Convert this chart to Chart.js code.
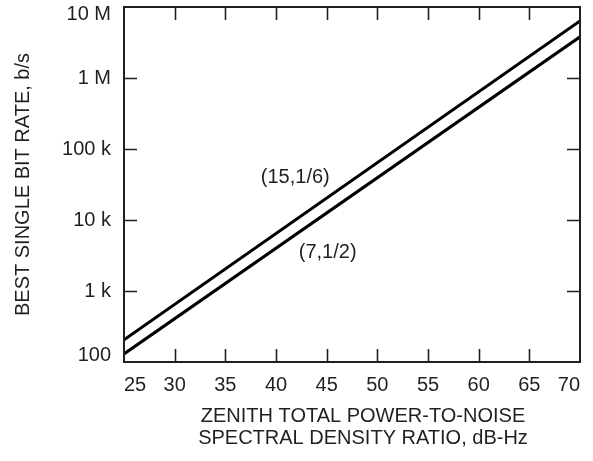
<!DOCTYPE html>
<html>
<head>
<meta charset="utf-8">
<script src="https://cdn.jsdelivr.net/npm/chart.js@4/dist/chart.umd.min.js"></script>
<style>
  html, body { margin: 0; padding: 0; background: #fff; }
  #wrap { width: 593px; height: 461px; position: relative; }
</style>
</head>
<body>
<div id="wrap"><canvas id="c" width="593" height="461"></canvas></div>
<script>
// Power-to-noise density ratio (dB-Hz) at the ends of each curve
const snrDbHz = [25, 70];
// Best single bit rate (b/s) for each code
const rateCode15 = [205, 6.35e6];   // (15,1/6)
const rateCode7 = [130, 3.8e6];     // (7,1/2)
const codeNames = ['(15,1/6)', '(7,1/2)'];
// Where each code name sits, in axis units [dB-Hz, b/s]
const codeLabelAt = [[41.9, 39700], [45.1, 3480]];

// Axis ticks
const xTickStep = 5;
const xMin = 25, xMax = 70;
const yTickValues = [100, 1e3, 1e4, 1e5, 1e6, 1e7];
const yTickLabels = ['100', '1 k', '10 k', '100 k', '1 M', '10 M'];

const xTitleLines = ['ZENITH TOTAL POWER-TO-NOISE', 'SPECTRAL DENSITY RATIO, dB-Hz'];
const yTitle = 'BEST SINGLE BIT RATE, b/s';

const INK = '#231f20';
const FONT = "'Liberation Sans', Arial, Helvetica, sans-serif";

function toPoints(xs, ys) {
  return xs.map((x, i) => ({ x: x, y: ys[i] }));
}

// Frame with inward tick marks on all four sides, plus curve names and x caption
const framePlugin = {
  id: 'frame',
  afterDatasetsDraw(chart) {
    const { ctx, chartArea: a, scales } = chart;
    const tick = 13;
    ctx.save();
    ctx.strokeStyle = INK;
    ctx.lineWidth = 2;
    ctx.strokeRect(a.left, a.top, a.right - a.left, a.bottom - a.top);
    ctx.beginPath();
    scales.x.ticks.forEach(t => {
      if (t.value <= xMin || t.value >= xMax) return;
      const px = Math.round(scales.x.getPixelForValue(t.value)) + 0.5;
      ctx.moveTo(px, a.bottom); ctx.lineTo(px, a.bottom - tick);
      ctx.moveTo(px, a.top); ctx.lineTo(px, a.top + tick);
    });
    scales.y.ticks.forEach(t => {
      if (t.value <= yTickValues[0] || t.value >= yTickValues[yTickValues.length - 1]) return;
      const py = Math.round(scales.y.getPixelForValue(t.value)) + 0.5;
      ctx.moveTo(a.left, py); ctx.lineTo(a.left + tick, py);
      ctx.moveTo(a.right, py); ctx.lineTo(a.right - tick, py);
    });
    ctx.lineWidth = 1.6;
    ctx.stroke();
    ctx.restore();
  },
  afterDraw(chart) {
    const { ctx, chartArea: a, scales } = chart;
    ctx.save();
    ctx.fillStyle = INK;
    ctx.font = '20px ' + FONT;
    ctx.textAlign = 'center';
    ctx.textBaseline = 'middle';
    codeNames.forEach((name, i) => {
      const px = scales.x.getPixelForValue(codeLabelAt[i][0]);
      const py = scales.y.getPixelForValue(codeLabelAt[i][1]);
      ctx.fillText(name, px, py);
    });
    ctx.textBaseline = 'alphabetic';
    const cx = (a.left + a.right) / 2 + 11;
    ctx.fillText(xTitleLines[0], cx, a.bottom + 60);
    ctx.fillText(xTitleLines[1], cx, a.bottom + 82);
    ctx.restore();
  }
};

const edgeFont = { family: FONT, size: 20, lineHeight: 0.7 };
const tickFont = { family: FONT, size: 20, lineHeight: 1.2 };

new Chart(document.getElementById('c'), {
  type: 'line',
  data: {
    datasets: [
      {
        label: codeNames[0],
        data: toPoints(snrDbHz, rateCode15),
        borderColor: '#000',
        borderWidth: 3,
        pointRadius: 0,
        fill: false
      },
      {
        label: codeNames[1],
        data: toPoints(snrDbHz, rateCode7),
        borderColor: '#000',
        borderWidth: 3,
        pointRadius: 0,
        fill: false
      }
    ]
  },
  options: {
    responsive: false,
    animation: false,
    devicePixelRatio: 1,
    layout: { padding: { left: 0, right: 13, top: 7, bottom: 0 } },
    plugins: {
      legend: { display: false },
      tooltip: { enabled: false }
    },
    scales: {
      x: {
        type: 'linear',
        min: xMin,
        max: xMax,
        grid: { display: false, drawTicks: false },
        border: { display: false },
        ticks: {
          stepSize: xTickStep,
          align: 'inner',
          padding: 11,
          color: INK,
          font: tickFont,
          maxRotation: 0,
          autoSkip: false
        },
        afterFit(s) {
          s.height = 99;
          s.paddingLeft = 0;
          s.paddingRight = 0;
        }
      },
      y: {
        type: 'logarithmic',
        min: yTickValues[0],
        max: yTickValues[yTickValues.length - 1],
        grid: { display: false, drawTicks: false },
        border: { display: false },
        afterBuildTicks(s) {
          s.ticks = yTickValues.map(v => ({ value: v }));
        },
        ticks: {
          padding: 13,
          color: INK,
          autoSkip: false,
          font(ctx) {
            const i = ctx.index;
            return (i === 0 || i === yTickValues.length - 1) ? edgeFont : tickFont;
          },
          callback(value) {
            const i = yTickValues.indexOf(value);
            if (i === 0) return [yTickLabels[i], ''];
            if (i === yTickValues.length - 1) return ['', yTickLabels[i]];
            return yTickLabels[i];
          }
        },
        title: {
          display: true,
          text: yTitle,
          color: INK,
          font: { family: FONT, size: 20 },
          padding: { top: 11, bottom: 0 }
        },
        afterFit(s) {
          s.width = 124;
          s.paddingTop = 0;
          s.paddingBottom = 0;
        }
      }
    }
  },
  plugins: [framePlugin]
});
</script>
</body>
</html>
